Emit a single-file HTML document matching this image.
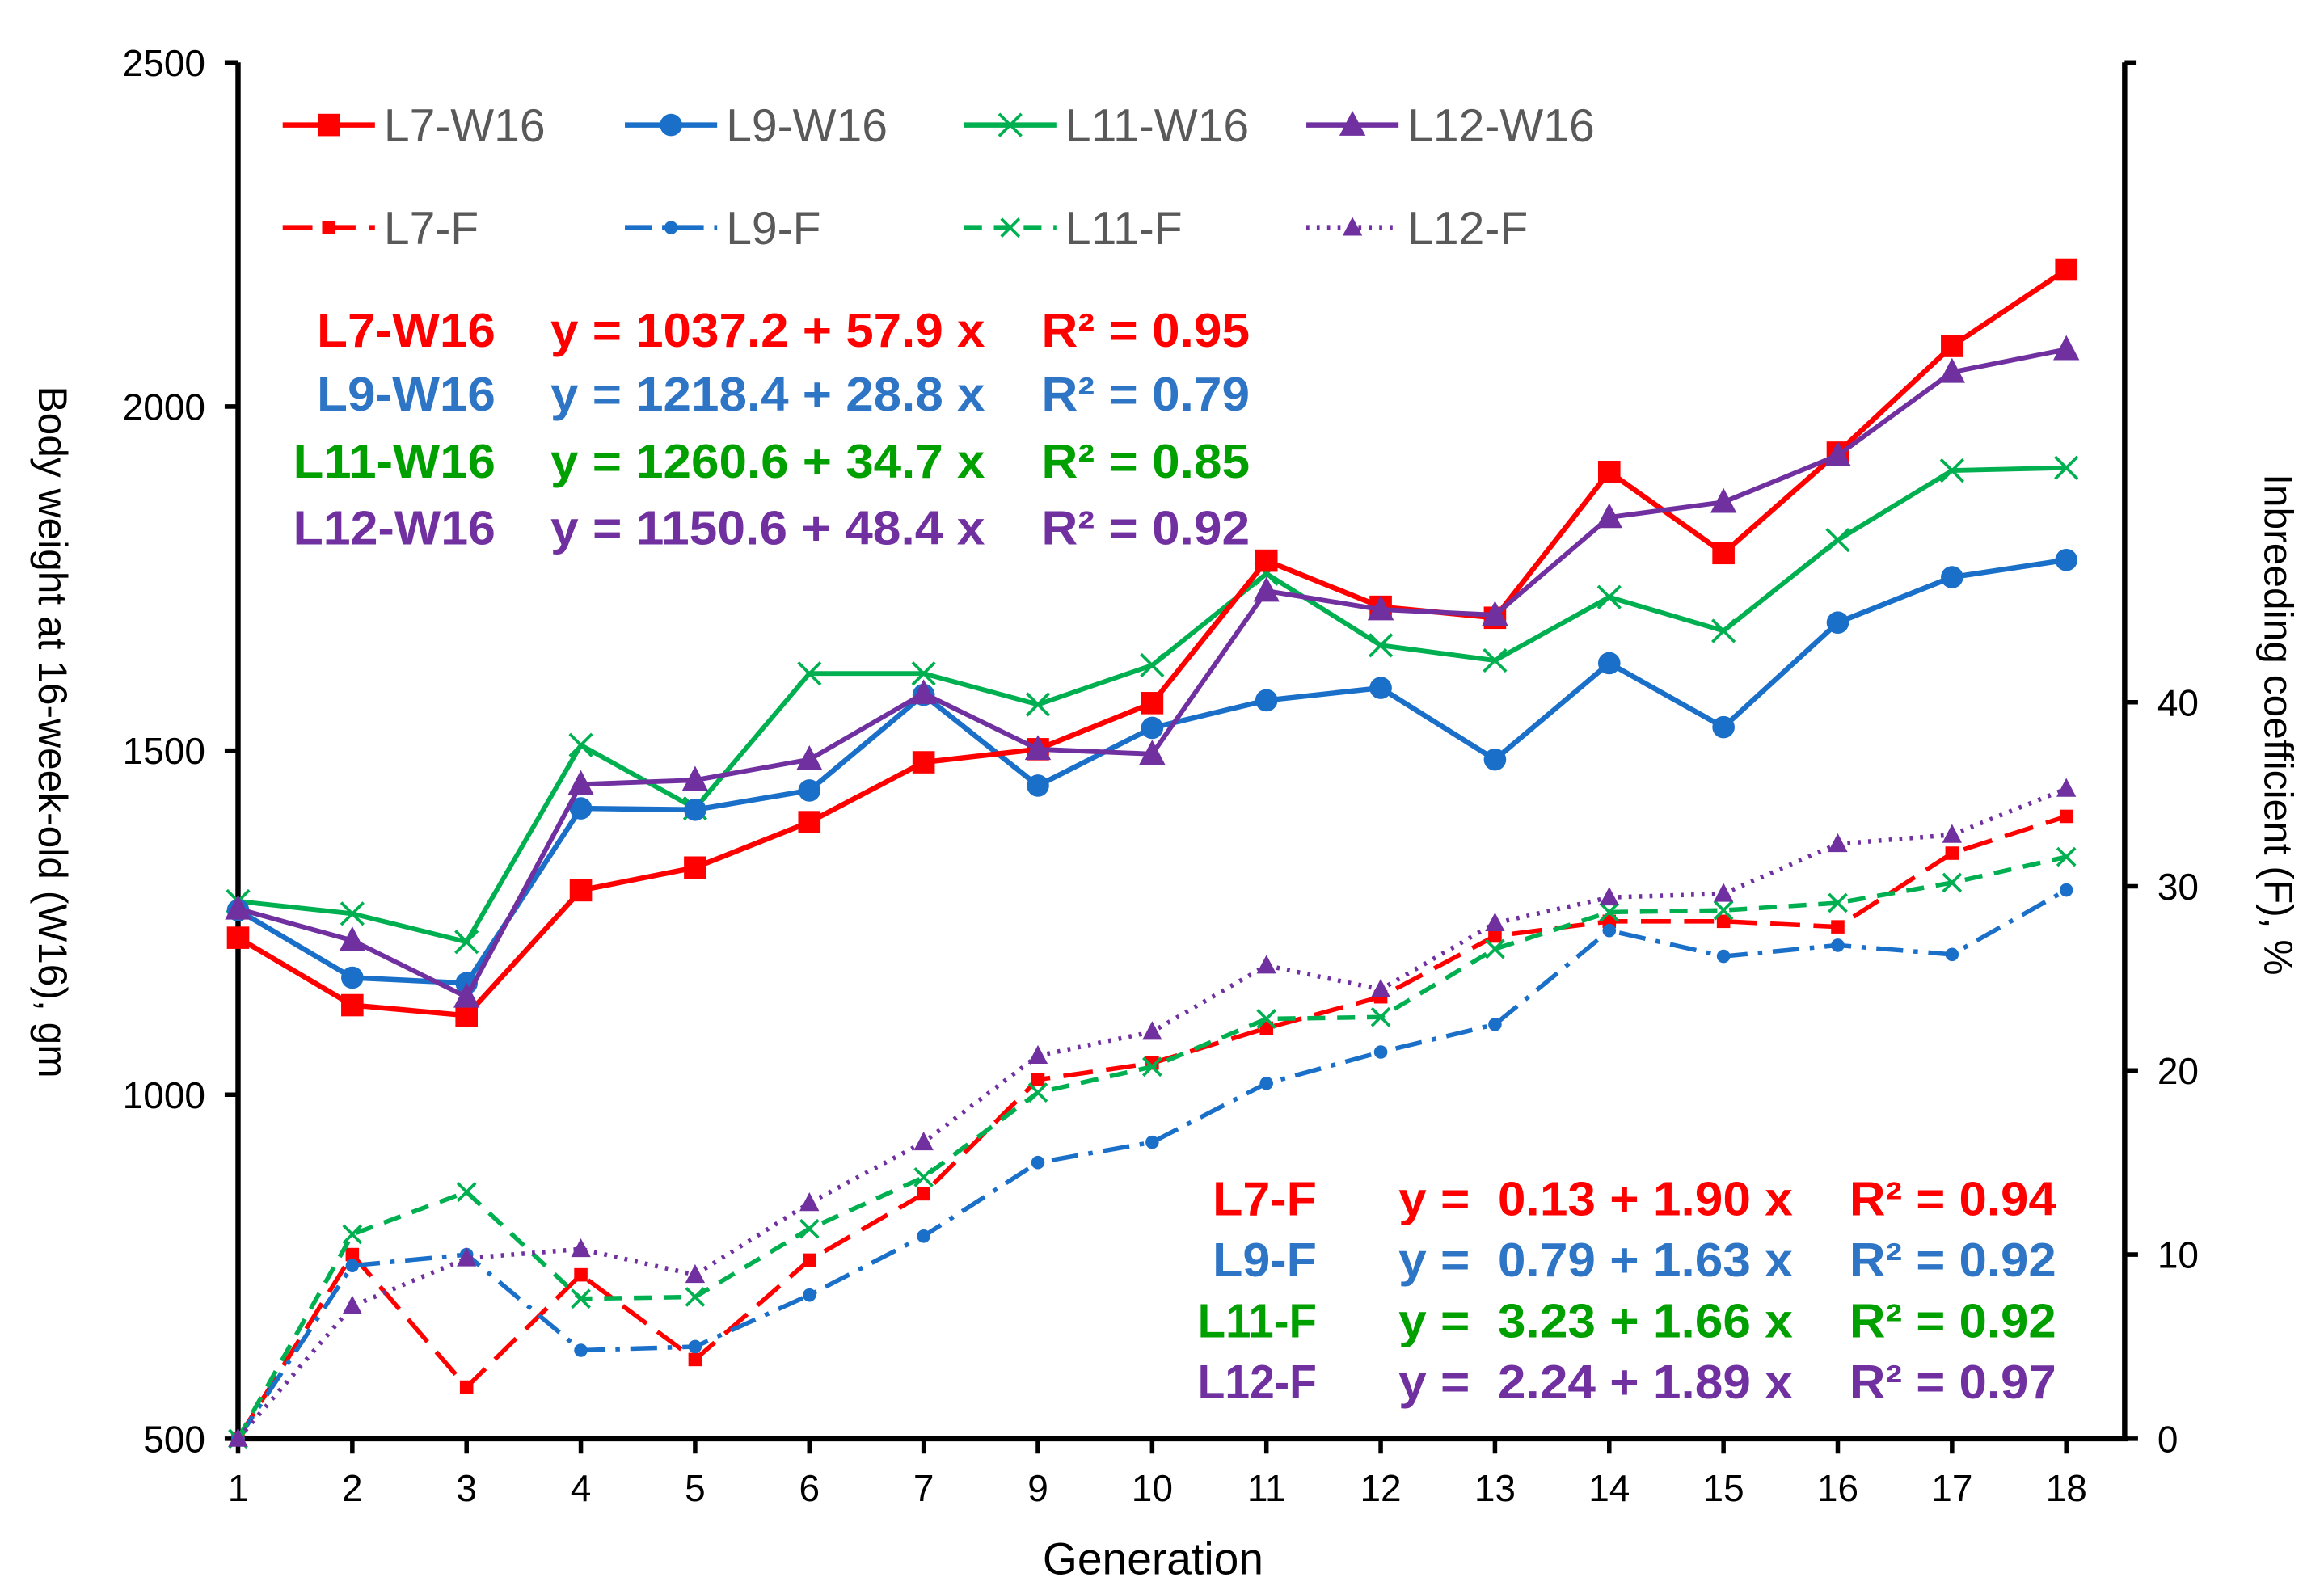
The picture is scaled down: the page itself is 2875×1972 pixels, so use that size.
<!DOCTYPE html>
<html><head><meta charset="utf-8"><style>
html,body{margin:0;padding:0;background:#fff;}
svg{display:block;}
text{font-family:"Liberation Sans",Arial,sans-serif;}
</style></head><body>
<svg id="chart" xmlns="http://www.w3.org/2000/svg" width="2875" height="1972" viewBox="0 0 1562 1071.4" preserveAspectRatio="none">
<g id="axes"></g>
<g id="series"></g>
<g id="legend"></g>
<g id="annot"></g>
</svg>
<script>
const generations = ["1","2","3","4","5","6","7","9","10","11","12","13","14","15","16","17","18"];
const leftTicks = [500,1000,1500,2000,2500];
const rightTicks = [0,10,20,30,40];
const l7W16 = [1228,1130,1115,1297,1330,1396,1483,1502,1569,1776,1709,1693,1905,1787,1933,2088,2199];
const l9W16 = [1268,1170,1162,1416,1414,1442,1581,1449,1533,1573,1591,1487,1627,1534,1686,1752,1777];
const l11W16 = [1281,1263,1222,1508,1416,1612,1612,1567,1624,1757,1653,1631,1723,1674,1806,1907,1911];
const l12W16 = [1270,1224,1142,1451,1457,1487,1583,1502,1495,1732,1705,1697,1839,1861,1929,2050,2083];
const l7F = [0,10.0,2.8,8.9,4.3,9.7,13.3,19.5,20.4,22.3,24.0,27.3,28.1,28.1,27.8,31.8,33.8];
const l9F = [0,9.4,10.0,4.8,5.0,7.8,11.0,15.0,16.1,19.3,21.0,22.5,27.6,26.2,26.8,26.3,29.8];
const l11F = [0,11.1,13.4,7.6,7.7,11.4,14.2,18.8,20.2,22.8,22.9,26.6,28.6,28.7,29.1,30.2,31.6];
const l12F = [0,7.2,9.8,10.3,8.9,12.8,16.1,20.8,22.1,25.7,24.4,28.0,29.4,29.6,32.3,32.8,35.3];

const NS="http://www.w3.org/2000/svg";
const X0=160, X1=1428, YB=967, YT=42, STEP=76.8;
const xPos=i=>X0+i*STEP;
const yL=v=>YB-(v-500)/2000*(YB-YT);
const yR=v=>YB-v*12.375;
function mk(tag,attrs,parent){const e=document.createElementNS(NS,tag);for(const k in attrs)e.setAttribute(k,attrs[k]);parent.appendChild(e);return e;}
const axes=document.getElementById('axes'), series=document.getElementById('series'), legend=document.getElementById('legend'), annot=document.getElementById('annot');

let a=mk('line',{x1:X0,y1:YT,x2:X0,y2:YB,stroke:'#000','stroke-width':3.5},axes);


a=mk('line',{x1:X1,y1:YT,x2:X1,y2:YB,stroke:'#000','stroke-width':3.5},axes);


a=mk('line',{x1:X0-2,y1:YB,x2:X1+2,y2:YB,stroke:'#000','stroke-width':3.5},axes);


a=mk('line',{x1:X1,y1:YT,x2:X1+8,y2:YT,stroke:'#000','stroke-width':3},axes);


leftTicks.forEach(v=>{
  const t=mk('line',{x1:X0-9,y1:yL(v),x2:X0,y2:yL(v),stroke:'#000','stroke-width':3},axes);
  
  
  const l=mk('text',{x:X0-22,y:yL(v)+9,'font-size':25,'text-anchor':'end',fill:'#000'},axes);
  l.textContent=v;
  
  
});
rightTicks.forEach(v=>{
  const t=mk('line',{x1:X1,y1:yR(v),x2:X1+9,y2:yR(v),stroke:'#000','stroke-width':3},axes);
  
  
  const l=mk('text',{x:X1+22,y:yR(v)+9,'font-size':25,'text-anchor':'start',fill:'#000'},axes);
  l.textContent=v;
  
  
});
generations.forEach((g,i)=>{
  const t=mk('line',{x1:xPos(i),y1:YB,x2:xPos(i),y2:YB+10,stroke:'#000','stroke-width':3},axes);
  
  
  const l=mk('text',{x:xPos(i),y:1009,'font-size':25,'text-anchor':'middle',fill:'#000'},axes);
  l.textContent=g;
  
  
});
let tt=mk('text',{x:775,y:1058,'font-size':30,'text-anchor':'middle',fill:'#000'},axes);
tt.textContent='Generation';


tt=mk('text',{x:0,y:0,'font-size':27,'text-anchor':'middle',fill:'#000',transform:'translate(26,492) rotate(90)'},axes);
tt.textContent='Body weight at 16-week-old (W16), gm';


tt=mk('text',{x:0,y:0,'font-size':27,'text-anchor':'middle',fill:'#000',transform:'translate(1522,487) rotate(90)'},axes);
tt.textContent='Inbreeding coefficient (F), %';



const RED='#FF0000', BLUE='#1A6FC9', GREEN='#00B050', PURPLE='#7030A0';
function marker(type,x,y,s,color,parent){
  let m;
  if(type==='sq') m=mk('rect',{x:x-s/2,y:y-s/2,width:s,height:s,fill:color},parent);
  else if(type==='ci') m=mk('circle',{cx:x,cy:y,r:s/2,fill:color},parent);
  else if(type==='x') m=mk('path',{d:`M${x-s/2} ${y-s/2}L${x+s/2} ${y+s/2}M${x+s/2} ${y-s/2}L${x-s/2} ${y+s/2}`,stroke:color,'stroke-width':2,fill:'none'},parent);
  else m=mk('path',{d:`M${x} ${y-s*0.6}L${x+s*0.55} ${y+s*0.45}L${x-s*0.55} ${y+s*0.45}Z`,fill:color},parent);
  return m;
}
function drawSeries(vals,scale,color,width,dash,mtype,msize,name){
  const g=mk('g',{},series);
  
  
  const pts=vals.map((v,i)=>xPos(i)+','+scale(v)).join(' ');
  const p=mk('polyline',{points:pts,fill:'none',stroke:color,'stroke-width':width,'stroke-dasharray':dash||'none','stroke-linejoin':'round'},g);
  
  
  vals.forEach((v,i)=>{
    const m=marker(mtype,xPos(i),scale(v),msize,color,g);
    
    
  });
}
drawSeries(l7F,yR,RED,3,'20 9','sq',9,'l7-f-series');
drawSeries(l9F,yR,BLUE,3,'18 7 3 7','ci',9,'l9-f-series');
drawSeries(l11F,yR,GREEN,3,'12 8','x',12,'l11-f-series');
drawSeries(l12F,yR,PURPLE,3,'2 5','tri',12,'l12-f-series');
drawSeries(l11W16,yL,GREEN,3.2,null,'x',15,'l11-w16-series');
drawSeries(l9W16,yL,BLUE,3.5,null,'ci',15,'l9-w16-series');
drawSeries(l7W16,yL,RED,3.5,null,'sq',15,'l7-w16-series');
drawSeries(l12W16,yL,PURPLE,3.2,null,'tri',16,'l12-w16-series');

const legItems=[
 ['L7-W16',190,84,RED,null,'sq',15],['L9-W16',420,84,BLUE,null,'ci',15],['L11-W16',648,84,GREEN,null,'x',15],['L12-W16',878,84,PURPLE,null,'tri',16],
 ['L7-F',190,153,RED,'20 9','sq',9],['L9-F',420,153,BLUE,'18 7 3 7','ci',9],['L11-F',648,153,GREEN,'12 8','x',12],['L12-F',878,153,PURPLE,'2 5','tri',12]];
legItems.forEach(it=>{
  const g=mk('g',{},legend);
  
  
  mk('line',{x1:it[1],y1:it[2],x2:it[1]+62,y2:it[2],stroke:it[3],'stroke-width':3.5,'stroke-dasharray':it[4]||'none'},g);
  marker(it[5],it[1]+31,it[2],it[6],it[3],g);
  const t=mk('text',{x:it[1]+68,y:it[2]+11,'font-size':31,fill:'#595959'},g);
  t.textContent=it[0];
});

const TG='#00A000', TB='#2E75C6';
const upper=[['L7-W16','y = 1037.2 + 57.9 x','R² = 0.95',RED,233],['L9-W16','y = 1218.4 + 28.8 x','R² = 0.79',TB,276],['L11-W16','y = 1260.6 + 34.7 x','R² = 0.85',TG,321],['L12-W16','y = 1150.6 + 48.4 x','R² = 0.92',PURPLE,366]];
const lower=[['L7-F','y =  0.13 + 1.90 x','R² = 0.94',RED,817],['L9-F','y =  0.79 + 1.63 x','R² = 0.92',TB,858],['L11-F','y =  3.23 + 1.66 x','R² = 0.92',TG,899],['L12-F','y =  2.24 + 1.89 x','R² = 0.97',PURPLE,940]];
function annRow(r,nameRight,nameW,eqX,eqW,rX,rW){
  const g=mk('g',{},annot);
  
  
  let t=mk('text',{x:nameRight-nameW,y:r[4],'font-size':32,'font-weight':'bold',fill:r[3],textLength:nameW,lengthAdjust:'spacingAndGlyphs'},g);
  t.textContent=r[0];
  t=mk('text',{x:eqX,y:r[4],'font-size':32,'font-weight':'bold',fill:r[3],textLength:eqW,lengthAdjust:'spacingAndGlyphs'},g);
  t.setAttribute('style','white-space:pre');
  t.textContent=r[1];
  t=mk('text',{x:rX,y:r[4],'font-size':32,'font-weight':'bold',fill:r[3],textLength:rW,lengthAdjust:'spacingAndGlyphs'},g);
  t.textContent=r[2];
}
upper.forEach(r=>annRow(r,333,r[0].length===6?120:136,370,292,700,140));
lower.forEach(r=>annRow(r,885,r[0].length===4?70:80,940,265,1243,139));
</script>
</body></html>
